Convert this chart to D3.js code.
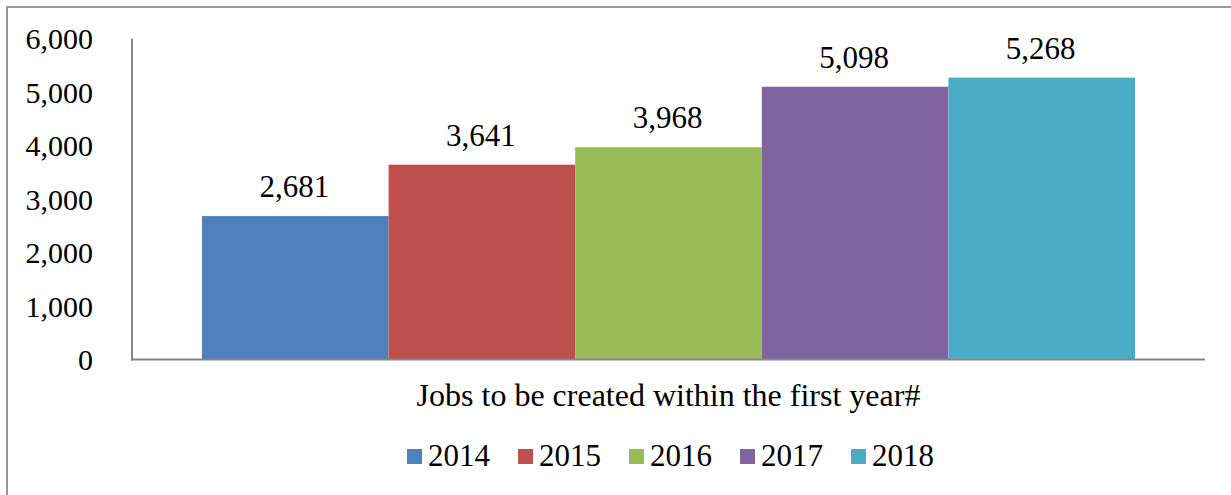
<!DOCTYPE html>
<html>
<head>
<meta charset="utf-8">
<script src="https://cdn.jsdelivr.net/npm/d3@7"></script>
<style>
  html, body { margin: 0; padding: 0; background: #fff; }
  svg { display: block; }
  text { font-family: "Liberation Serif", "Times New Roman", serif; fill: #000; }
</style>
</head>
<body>
<svg id="chart" width="1231" height="495"></svg>
<script>
const categories = ["Jobs to be created within the first year#"];
const years = ["2014", "2015", "2016", "2017", "2018"];
const values = [2681, 3641, 3968, 5098, 5268];
const colors = ["#4F81BD", "#C0504D", "#9BBB59", "#8064A2", "#4BACC6"];
const yTicks = [0, 1000, 2000, 3000, 4000, 5000, 6000];

const svg = d3.select("#chart");
const W = 1231, H = 495;
const plot = { left: 132, right: 1205, top: 38.5, bottom: 359.5 };
const fmt = d3.format(",");

// chart border (extends past right/bottom edges)
svg.append("rect")
  .attr("x", 7).attr("y", 7).attr("width", W + 20).attr("height", H + 20)
  .attr("fill", "none").attr("stroke", "#9a9a9a").attr("stroke-width", 2);

const y = d3.scaleLinear().domain([0, 6000]).range([plot.bottom, plot.top]);
const x0 = d3.scaleBand().domain(categories).range([plot.left, plot.right])
  .paddingInner(0).paddingOuter(0.075);
const x1 = d3.scaleBand().domain(years).range([0, x0.bandwidth()]).padding(0);

// y axis labels
const yAxis = d3.axisLeft(y).tickValues(yTicks).tickFormat(fmt).tickSize(0).tickPadding(39);
const gy = svg.append("g").attr("transform", `translate(${plot.left},0)`).call(yAxis);
gy.select(".domain").remove();
gy.selectAll("text").style("font-size", "30px").style("font-family", "Liberation Serif, serif")
  .attr("dy", "0.34em");

// bars
const g = svg.append("g");
categories.forEach(cat => {
  years.forEach((yr, i) => {
    g.append("rect")
      .attr("x", x0(cat) + x1(yr))
      .attr("y", y(values[i]))
      .attr("width", x1.bandwidth())
      .attr("height", y(0) - y(values[i]))
      .attr("fill", colors[i]);
    g.append("text")
      .attr("x", x0(cat) + x1(yr) + x1.bandwidth() / 2 - 1)
      .attr("y", y(values[i]) - 19)
      .attr("text-anchor", "middle")
      .style("font-size", "31px")
      .text(fmt(values[i]));
  });
});

// axis lines
svg.append("line").attr("x1", plot.left).attr("x2", plot.left)
  .attr("y1", plot.top).attr("y2", plot.bottom + 1)
  .attr("stroke", "#868686").attr("stroke-width", 2);
svg.append("line").attr("x1", plot.left - 1).attr("x2", plot.right)
  .attr("y1", plot.bottom).attr("y2", plot.bottom)
  .attr("stroke", "#868686").attr("stroke-width", 2);

// category label
const xAxis = d3.axisBottom(x0).tickSize(0).tickPadding(0);
const gx = svg.append("g").call(xAxis);
gx.select(".domain").remove();
gx.selectAll("text").attr("y", 406).attr("dy", null)
  .style("font-size", "32px").style("font-family", "Liberation Serif, serif");

// legend
const legend = svg.append("g");
const sq = 15, gapText = 6, gapItem = 28;
const items = years.map((yr, i) => {
  const t = legend.append("text").style("font-size", "31px").text(yr);
  return { yr, i, t, w: t.node().getComputedTextLength() };
});
const total = d3.sum(items, d => sq + gapText + d.w) + gapItem * (items.length - 1);
let cx = (plot.left + plot.right) / 2 - total / 2 + 2;
items.forEach(d => {
  legend.append("rect").attr("x", cx).attr("y", 449).attr("width", sq).attr("height", sq)
    .attr("fill", colors[d.i]);
  d.t.attr("x", cx + sq + gapText).attr("y", 466);
  cx += sq + gapText + d.w + gapItem;
});
</script>
</body>
</html>
